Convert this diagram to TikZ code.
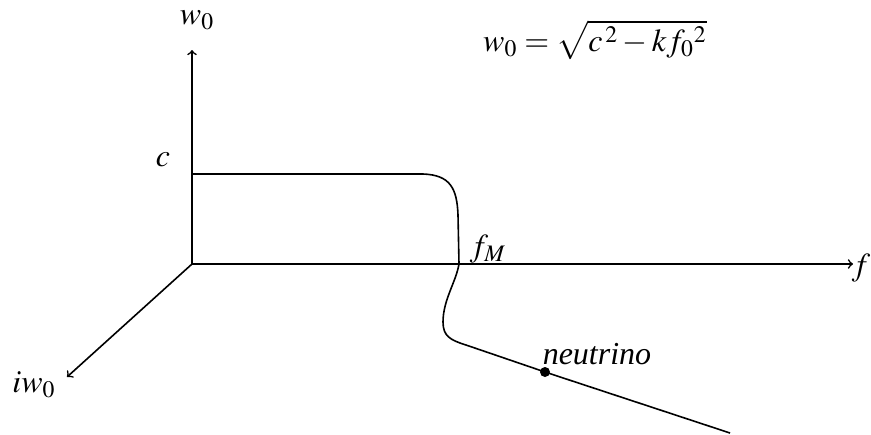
\documentclass[tikz,border=0pt]{standalone}
\usepackage{mathptmx}
\usepackage{fontspec}
\setmainfont{Liberation Serif}
\usepackage{tikz}
\usetikzlibrary{arrows,positioning,calc}
\tikzset{lbl/.style={inner sep=0pt, font=\fontsize{16}{19}\selectfont}}

\begin{document}
\begin{tikzpicture}[x=0.5pt,y=-0.5pt, line width=0.8pt]
    \useasboundingbox (0,0) rectangle (871,434);
    % axes
    \coordinate (O) at (192,264);
    \coordinate (wtop) at (192,50);
    \coordinate (fend) at (853,264);
    \coordinate (iwend) at (67,377);
    \draw[->] (O) -- (wtop);
    \draw[->] (O) -- (fend);
    \draw[->] (O) -- (iwend);
    % curve through f_M
    \coordinate (cpt) at (192,174);
    \coordinate (fM) at (459,264);
    \coordinate (nu) at (545,372);
    \coordinate (tail) at (730,433);
    \draw (cpt) -- (423,174) .. controls (450,175) and (457,188) .. (458,215)
      -- (fM) .. controls (456,282) and (443,300) .. (443,322)
      .. controls (443,336) and (450,340) .. (466,345) -- (nu) -- (tail);
    \fill (nu) circle (5);
    % labels
    \node[lbl] (lblw) at (197,20) {$w_0$};
    \node[lbl] (lblc) at (163,160) {$c$};
    \node[lbl] (lblf) at (861,268) {$f$};
    \node[lbl] (lbliw) at (34,385) {$iw_0$};
    \node[lbl] (lblfM) at (488,249) {$f_M$};
    \node[lbl] (lblnu) at (597,354) {\textit{neutrino}};
    \node[lbl] (formula) at (595,40) {$w_0=\sqrt{c^{\,2}-kf_0{}^{2}}$};
  \end{tikzpicture}
\end{document}
